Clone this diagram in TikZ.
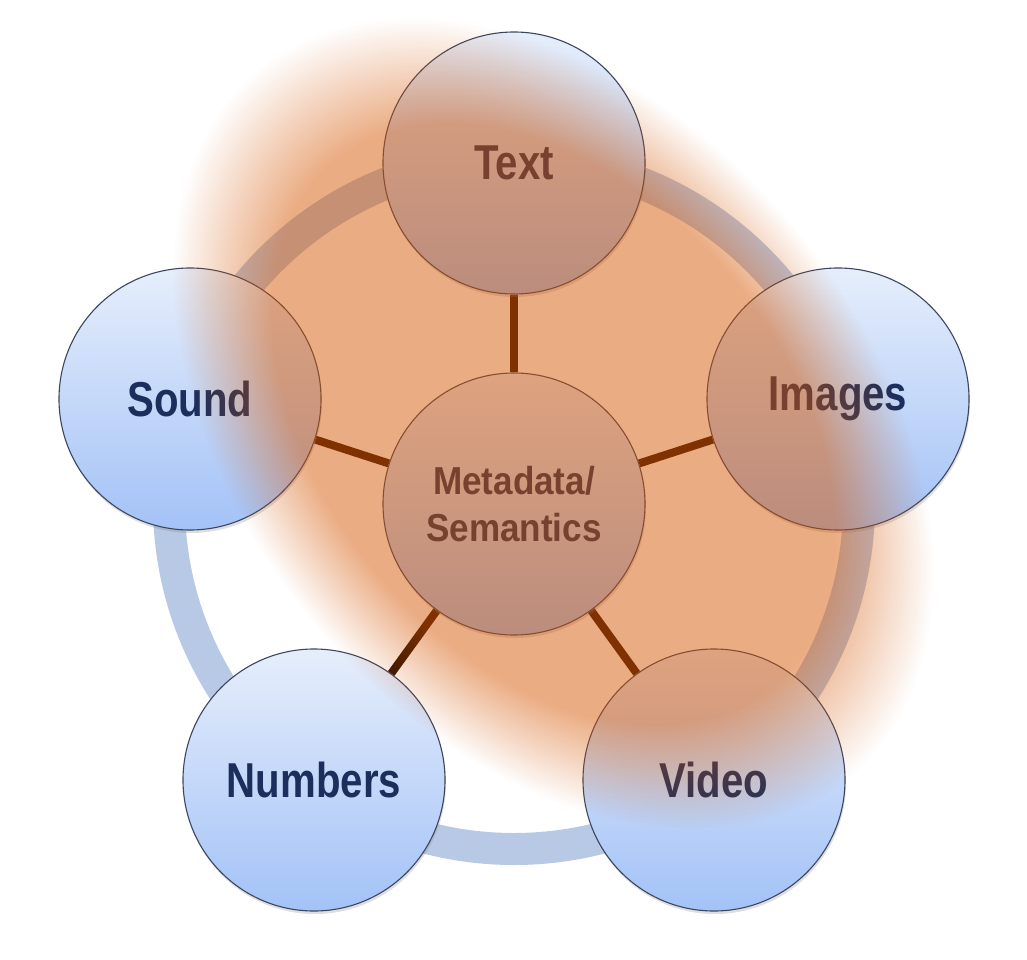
\documentclass[tikz,border=0pt]{standalone}
\usepackage{fontspec}
\newfontfamily\lblfont[FakeStretch=0.82]{Liberation Sans}
\newfontfamily\cenfont[FakeStretch=0.9]{Liberation Sans}
\usetikzlibrary{shadows,fadings,backgrounds}
\definecolor{ringcol}{RGB}{184,201,230}
\definecolor{conncol}{RGB}{45,16,0}
\definecolor{ctop}{RGB}{230,238,251}
\definecolor{cbot}{RGB}{163,194,247}
\definecolor{bordercol}{RGB}{60,70,95}
\definecolor{navy}{RGB}{27,46,92}
\definecolor{blobcol}{RGB}{214,86,0}
\pgfdeclareradialshading{blobshade}{\pgfpoint{0bp}{0bp}}{color(0bp)=(white); color(34bp)=(white); color(40bp)=(gray); color(46bp)=(black); color(50bp)=(black)}
\pgfdeclarefading{blobfade}{\pgfuseshading{blobshade}}
\tikzset{
  bubble/.style={circle, minimum size=262, inner sep=0pt, draw=bordercol, line width=1.1pt,
    top color=ctop, bottom color=cbot, text=navy,
    drop shadow={shadow xshift=1pt, shadow yshift=-3pt, opacity=0.25}},
  outerlbl/.style={bubble, font=\lblfont\bfseries\fontsize{49}{49}\selectfont},
  centerlbl/.style={bubble, align=center, font=\cenfont\bfseries\fontsize{39}{47}\selectfont},
  conn/.style={draw=conncol, line width=8pt},
  ring/.style={draw=ringcol, line width=32pt},
  blob/.style={fill=blobcol, opacity=0.49, path fading=blobfade, fit fading=false,
    fading transform={shift={(553,424)}, rotate=-50, xscale=10, yscale=6.75}}
}
\begin{document}
\begin{tikzpicture}[x=1pt,y=-1pt]
\useasboundingbox (0,0) rectangle (1027,960);
\node[centerlbl] (c) at (514,504) {Metadata/\\Semantics};
\node[outerlbl] (t) at (514,163) {Text};
\node[outerlbl] (im) at (838,399) {Images};
\node[outerlbl] (v) at (714,780) {Video};
\node[outerlbl] (n) at (314,780) {Numbers};
\node[outerlbl] (s) at (190,399) {Sound};
\begin{scope}[on background layer]
  \fill[white] (0,0) rectangle (1027,960);
  \path[ring] (c.center) circle[radius=345];
  \draw[conn] (c) -- (t);
  \draw[conn] (c) -- (im);
  \draw[conn] (c) -- (v);
  \draw[conn] (c) -- (n);
  \draw[conn] (c) -- (s);
\end{scope}
\begin{scope}[shift={(553,424)}, rotate=-50]
  \fill[blob] (0,0) ellipse[x radius=470, y radius=322];
\end{scope}
\end{tikzpicture}
\end{document}
